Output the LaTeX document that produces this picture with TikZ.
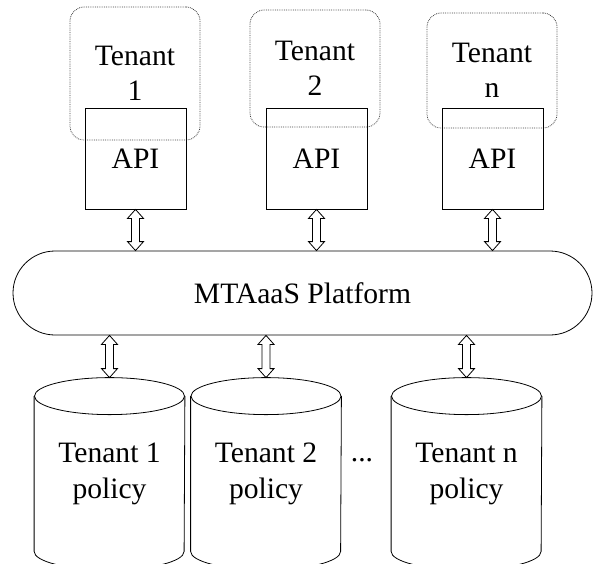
\documentclass[tikz,border=0pt]{standalone}
\usepackage{fontspec}
\setmainfont{Liberation Serif}
\usetikzlibrary{calc}

% hollow double-headed arrow between two named points (#1 above #2)
\newcommand{\hollowlink}[2]{%
  \draw[line width=0.8pt] (#1) -- ($(#1)+(8,9)$) -- ($(#1)+(4,9)$) -- ($(#2)+(4,-9)$)
    -- ($(#2)+(8,-9)$) -- (#2) -- ($(#2)+(-8,-9)$) -- ($(#2)+(-4,-9)$)
    -- ($(#1)+(-4,9)$) -- ($(#1)+(-8,9)$) -- cycle;}
% cylinder outline round a named node
\newcommand{\drum}[1]{%
  \draw[line width=0.8pt] ($(#1.north)+(0,18.5)$) ellipse [x radius=75pt, y radius=18.5pt];
  \draw[line width=0.8pt] ($(#1.north west)+(0,18.5)$) -- ($(#1.south west)+(0,-18.5)$)
    arc [start angle=180, end angle=360, x radius=75pt, y radius=18.5pt]
    -- ($(#1.north east)+(0,18.5)$);}

\begin{document}
\begin{tikzpicture}[x=1pt, y=-1pt,
    every node/.style={font=\fontsize{29.6}{35.5}\selectfont, line width=0.8pt},
    tenant/.style={draw=black!75, densely dotted, rounded corners=14pt, minimum width=130pt, align=center, inner sep=0pt},
    api/.style={draw, minimum width=101pt, minimum height=101pt, inner sep=0pt},
    policy/.style={minimum width=150pt, minimum height=191.5pt, align=center, inner sep=0pt}]
    \useasboundingbox (0,0) rectangle (593,563);

    % tenants and their APIs
    \node[tenant, minimum height=133pt] (ten1) at (135,73.5) {Tenant\\1};
    \node[tenant, minimum height=117pt] (ten2) at (315,68.5) {Tenant\\2};
    \node[tenant, minimum height=115pt] (tenn) at (492,70.5) {Tenant\\n};
    \node[api] (api1) at (135.5,158.5) {API};
    \node[api] (api2) at (316.5,158.5) {API};
    \node[api] (apin) at (492.5,158.5) {API};

    % platform
    \node[draw, rounded corners=42pt, minimum width=579pt, minimum height=84pt] (plat) at (302.5,293) {MTAaaS Platform};

    % policies
    \node[policy] (pol1) at (109.5,473.75) {Tenant 1\\policy};
    \node[policy] (pol2) at (266,473.75) {Tenant 2\\policy};
    \node[policy] (poln) at (466.5,473.75) {Tenant n\\policy};
    \drum{pol1}
    \drum{pol2}
    \drum{poln}
    \node (dots) at (362,460) {...};

    % links
    \coordinate (up1) at (api1.south |- plat.north);
    \coordinate (up2) at (api2.south |- plat.north);
    \coordinate (upn) at (apin.south |- plat.north);
    \coordinate (lo1) at (pol1.north |- plat.south);
    \coordinate (lo2) at (pol2.north |- plat.south);
    \coordinate (lon) at (poln.north |- plat.south);
    \hollowlink{api1.south}{up1}
    \hollowlink{api2.south}{up2}
    \hollowlink{apin.south}{upn}
    \hollowlink{lo1}{pol1.north}
    \hollowlink{lo2}{pol2.north}
    \hollowlink{lon}{poln.north}
\end{tikzpicture}
\end{document}
